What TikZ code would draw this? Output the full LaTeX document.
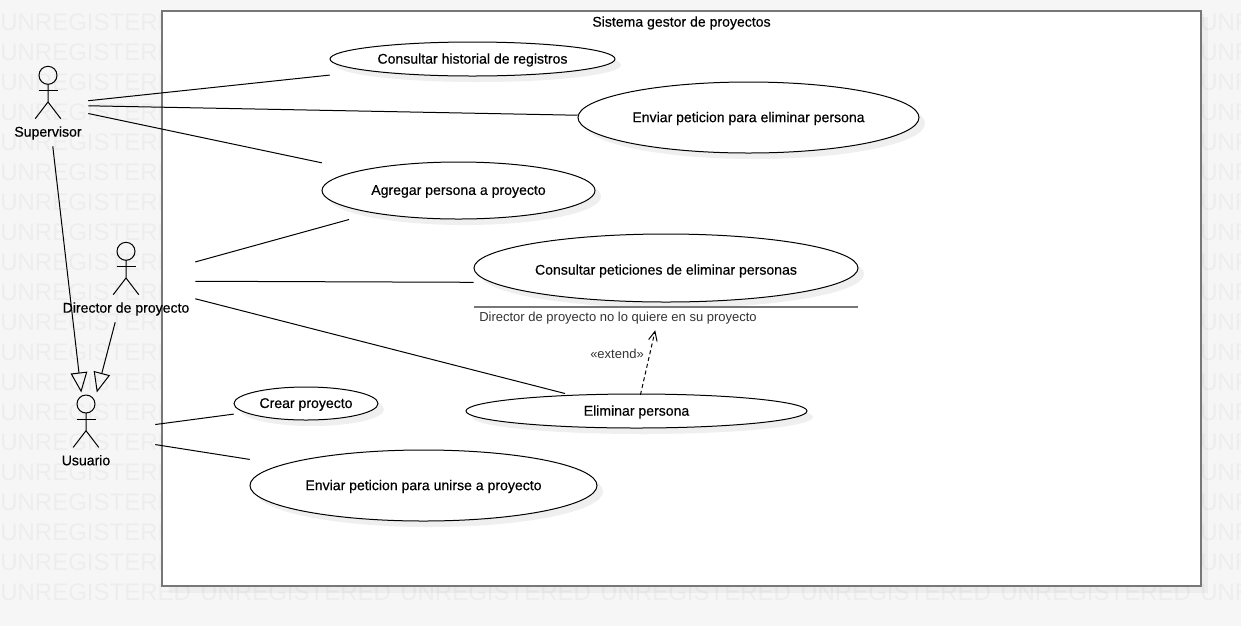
\documentclass[tikz,border=0pt]{standalone}
\usepackage{fontspec}
\setmainfont{Liberation Sans}
\newfontfamily\ucfont{Liberation Sans}[FakeBold=0.4]
\usetikzlibrary{arrows.meta}
\definecolor{pagegray}{HTML}{F6F6F6}
\definecolor{frameshadow}{HTML}{EDEDED}
\definecolor{shadowgray}{HTML}{EFEFEF}
\definecolor{framegray}{HTML}{777777}
\tikzset{
  watermark/.style={anchor=west,inner sep=0pt,text=black,text opacity=0.035,font=\fontsize{18pt}{20pt}\selectfont},
  uclabel/.style={inner sep=0pt,text=black,yshift=-0.75pt,font=\ucfont\fontsize{10.55pt}{12pt}\selectfont},
  notelabel/.style={inner sep=0pt,text=black!80,yshift=-0.75pt,font=\fontsize{9.75pt}{12pt}\selectfont},
  assoc/.style={line width=0.75pt},
  generalize/.style={line width=0.75pt,-{Triangle[open,length=15pt,width=12.5pt]}},
  extendarrow/.style={line width=0.75pt,dash pattern=on 3pt off 2.2pt,-{Straight Barb[length=7pt,width=6.5pt,line width=0.75pt]}},
}
\begin{document}
\begin{tikzpicture}[x=0.75pt,y=0.75pt,yscale=-1]
    \useasboundingbox (0,0) rectangle (1241,626);
    \fill [pagegray] (0,0) rectangle (1241,626);

    %Frame shadow
    \fill [frameshadow] (169,17) rectangle (1208,593);

    % Watermark
    \foreach \wmrow in {0,...,19} {
      \foreach \wmcol in {0,...,6} {
        \node [watermark] (wm\wmrow-\wmcol) at (200*\wmcol,22.5+30*\wmrow) {UNREGISTERED};
      }
    }

    %Frame
    \draw [color=framegray,line width=1.5pt,fill=white] (162,10.5) rectangle (1201,586);
    \node [uclabel] (title) at (681.5,22) {Sistema gestor de proyectos};

    %Use cases
    \foreach \ucname/\ucx/\ucy/\ucrx/\ucry/\uctext in {
      hist/472.5/59/142.5/17/Consultar historial de registros,
      pideel/748.5/117.5/170.5/35.5/Enviar peticion para eliminar persona,
      agrega/458.5/190.5/136.5/28.5/Agregar persona a proyecto,
      elimina/636.5/411/170.5/17/Eliminar persona,
      crea/306/403.5/72/16.5/Crear proyecto,
      pideun/423.5/485.5/173.5/35.5/Enviar peticion para unirse a proyecto
    } {
      \fill [shadowgray] (\ucx+6,\ucy+6) ellipse (\ucrx pt*0.75 and \ucry pt*0.75);
      \draw [fill=white,line width=0.75pt] (\ucx,\ucy) ellipse (\ucrx pt*0.75 and \ucry pt*0.75);
      \node [uclabel,rectangle,minimum width=2*\ucrx*0.75pt,minimum height=2*\ucry*0.75pt] (\ucname) at (\ucx,\ucy) {\uctext};
    }

    %Use case with extension point
    \fill [shadowgray] (672,274) ellipse (144pt and 25.5pt);
    \draw [fill=white,line width=0.75pt] (666,268) ellipse (144pt and 25.5pt);
    \node [uclabel] (consultxt) at (666,270) {Consultar peticiones de eliminar personas};
    \node [rectangle,inner sep=0pt,minimum width=288pt,minimum height=70.5pt] (consul) at (666,283) {};
    \coordinate (sepl) at (474,307);
    \coordinate (sepr) at (858,307);
    \draw [color=framegray,line width=1pt] (sepl) -- (sepr);
    \node [notelabel,anchor=west] (extpoint) at (479,317) {Director de proyecto no lo quiere en su proyecto};

    %Actors
    \foreach \acname/\acx/\acy/\acw/\aclbl/\actext in {
      sup/48/105/80/27/Supervisor,
      dir/126/281/138/27/Director de proyecto,
      usu/86/433.7/138/25.5/Usuario
    } {
      \node [rectangle,inner sep=0pt,minimum width=\acw*0.75pt,minimum height=61.5pt] (\acname) at (\acx,\acy) {};
      \draw [line width=0.75pt] (\acx,\acy-29.7) circle (6.75pt);
      \draw [line width=0.75pt] (\acx,\acy-20.7) -- (\acx,\acy-3) -- (\acx-12.8,\acy+13.7);
      \draw [line width=0.75pt] (\acx,\acy-3) -- (\acx+12.8,\acy+13.7);
      \draw [line width=0.75pt] (\acx-9.5,\acy-14.3) -- (\acx+9.5,\acy-14.3);
      \node [uclabel] (\acname lbl) at (\acx,\acy+\aclbl) {\actext};
    }

    %Free ends of two associations
    \coordinate (agregaend) at (349,219.5);
    \coordinate (eliminaend) at (565,393.5);

    %Associations
    \draw [assoc] (sup) -- (hist);
    \draw [assoc] (sup) -- (pideel);
    \draw [assoc] (sup) -- (agrega);
    \draw [assoc] (dir) -- (agregaend);
    \draw [assoc] (dir) -- (consul);
    \draw [assoc] (dir) -- (eliminaend);
    \draw [assoc] (usu) -- (crea);
    \draw [assoc] (usu) -- (pideun);

    %Generalizations
    \draw [generalize] (sup) -- (usu);
    \draw [generalize] (dir) -- (usu);

    %Extend
    \draw [extendarrow] (elimina) -- (consul);
    \node [notelabel] (extlabel) at (617,353) {«extend»};

\end{tikzpicture}
\end{document}
